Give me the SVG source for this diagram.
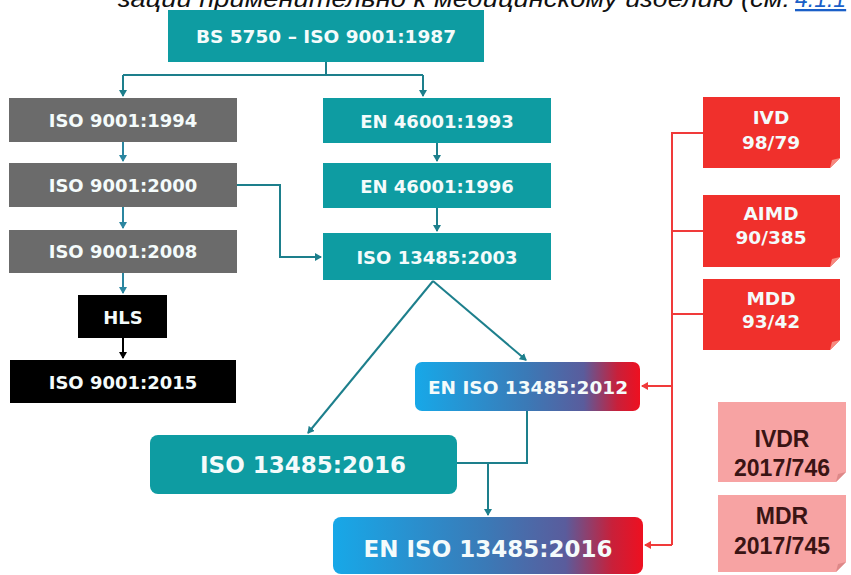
<svg xmlns="http://www.w3.org/2000/svg" width="851" height="575" viewBox="0 0 851 575">
<style>
.t{font-family:"DejaVu Sans",Verdana,sans-serif;font-weight:bold;fill:#f4fbfb;text-anchor:middle;dominant-baseline:central}
.p{font-family:"Liberation Sans",Arial,sans-serif;font-weight:bold;fill:#3a1414;text-anchor:middle;font-size:23px}
.teal{fill:#0e9ca2}
.gray{fill:#6b6b6b}
.blk{fill:#000}
.red{fill:#f0302c}
.pink{fill:#f7a3a3}
.ct{fill:none;stroke:#1d7f8c;stroke-width:2}
.cg{fill:none;stroke:#2b86a0;stroke-width:2}
.cb{fill:none;stroke:#000;stroke-width:2}
.cr{fill:none;stroke:#f03a3a;stroke-width:2}
</style>
<defs>
<linearGradient id="g" x1="0" y1="0" x2="1" y2="0">
<stop offset="0" stop-color="#17a8e8"/>
<stop offset="0.5" stop-color="#3b79b6"/>
<stop offset="0.75" stop-color="#5a5c9c"/>
<stop offset="0.9" stop-color="#c8203a"/>
<stop offset="1" stop-color="#ee1020"/>
</linearGradient>
<marker id="at" markerWidth="8" markerHeight="8" refX="6" refY="4" orient="auto" markerUnits="userSpaceOnUse"><path d="M0,0 L7,4 L0,8 z" fill="#1d7f8c"/></marker>
<marker id="ag" markerWidth="8" markerHeight="8" refX="6" refY="4" orient="auto" markerUnits="userSpaceOnUse"><path d="M0,0 L7,4 L0,8 z" fill="#2b86a0"/></marker>
<marker id="ab" markerWidth="8" markerHeight="8" refX="6" refY="4" orient="auto" markerUnits="userSpaceOnUse"><path d="M0,0 L7,4 L0,8 z" fill="#000"/></marker>
<marker id="ar" markerWidth="8" markerHeight="8" refX="6" refY="4" orient="auto" markerUnits="userSpaceOnUse"><path d="M0,0 L7,4 L0,8 z" fill="#f03a3a"/></marker>
</defs>
<rect width="851" height="575" fill="#fff"/>
<text x="118" y="7" font-family="'Liberation Sans',Arial,sans-serif" font-style="italic" font-size="23" fill="#111" textLength="672" lengthAdjust="spacingAndGlyphs">зации применительно к медицинскому изделию (см.</text>
<text x="795" y="7" font-family="'Liberation Sans',Arial,sans-serif" font-style="italic" font-size="23" fill="#1a5fc8" text-decoration="underline">4.1.1</text>

<g id="connectors">
<path class="ct" d="M326,62 V75 M123,75 H423"/>
<path class="ct" d="M123,75 V96" marker-end="url(#at)"/>
<path class="ct" d="M423,75 V96" marker-end="url(#at)"/>
<path class="cg" d="M123,142 V161" marker-end="url(#ag)"/>
<path class="cg" d="M123,207 V228" marker-end="url(#ag)"/>
<path class="cg" d="M123,273 V293" marker-end="url(#ag)"/>
<path class="cb" d="M123,338 V358" marker-end="url(#ab)"/>
<path class="ct" d="M437,143 V161" marker-end="url(#at)"/>
<path class="ct" d="M437,208 V231" marker-end="url(#at)"/>
<path class="ct" d="M237,185 H280 V257 H321" marker-end="url(#at)"/>
<path class="ct" d="M433,281 L526,360" marker-end="url(#at)"/>
<path class="ct" d="M433,281 L308,433" marker-end="url(#at)"/>
<path class="ct" d="M527,411 V463 H457"/>
<path class="ct" d="M488,463 V515" marker-end="url(#at)"/>
<path class="cr" d="M703,133 H672 V545 M672,231 H703 M672,314 H703"/>
<path class="cr" d="M672,386 H642" marker-end="url(#ar)"/>
<path class="cr" d="M672,545 H645" marker-end="url(#ar)"/>
</g>

<g id="bs5750"><rect class="teal" x="168" y="10" width="316" height="52"/><text class="t" x="326" y="36" font-size="18.5">BS 5750 – ISO 9001:1987</text></g>
<g id="iso9001-1994"><rect class="gray" x="9" y="98" width="228" height="44"/><text class="t" x="123" y="120" font-size="18">ISO 9001:1994</text></g>
<g id="iso9001-2000"><rect class="gray" x="9" y="163" width="228" height="44"/><text class="t" x="123" y="185" font-size="18">ISO 9001:2000</text></g>
<g id="iso9001-2008"><rect class="gray" x="9" y="230" width="228" height="43"/><text class="t" x="123" y="251" font-size="18">ISO 9001:2008</text></g>
<g id="hls"><rect class="blk" x="78" y="295" width="89" height="43"/><text class="t" x="123" y="317" font-size="18">HLS</text></g>
<g id="iso9001-2015"><rect class="blk" x="10" y="360" width="226" height="43"/><text class="t" x="123" y="382" font-size="18">ISO 9001:2015</text></g>
<g id="en46001-1993"><rect class="teal" x="323" y="98" width="228" height="45"/><text class="t" x="437" y="121" font-size="18">EN 46001:1993</text></g>
<g id="en46001-1996"><rect class="teal" x="323" y="163" width="228" height="45"/><text class="t" x="437" y="186" font-size="18">EN 46001:1996</text></g>
<g id="iso13485-2003"><rect class="teal" x="323" y="233" width="228" height="47"/><text class="t" x="437" y="257" font-size="18">ISO 13485:2003</text></g>
<g id="eniso13485-2012"><rect fill="url(#g)" x="415" y="362" width="225" height="49" rx="7"/><text class="t" x="528" y="387" font-size="18.5">EN ISO 13485:2012</text></g>
<g id="iso13485-2016"><rect class="teal" x="150" y="435" width="307" height="59" rx="8"/><text class="t" x="303" y="465" font-size="23">ISO 13485:2016</text></g>
<g id="eniso13485-2016"><rect fill="url(#g)" x="333" y="517" width="310" height="57" rx="8"/><text class="t" x="488" y="549" font-size="23">EN ISO 13485:2016</text></g>

<g id="ivd"><path class="red" d="M703,97 H840 V158 L830,168 H703 Z"/><path d="M840,158 L830,168 L832,160 Z" fill="#f58a80"/><text class="t" x="771" y="117" font-size="18.5">IVD</text><text class="t" x="771" y="142" font-size="18.5">98/79</text></g>
<g id="aimd"><path class="red" d="M703,195 H840 V257 L830,267 H703 Z"/><path d="M840,257 L830,267 L832,259 Z" fill="#f58a80"/><text class="t" x="771" y="213" font-size="18.5">AIMD</text><text class="t" x="771" y="237" font-size="18.5">90/385</text></g>
<g id="mdd"><path class="red" d="M703,279 H840 V340 L830,350 H703 Z"/><path d="M840,340 L830,350 L832,342 Z" fill="#f58a80"/><text class="t" x="771" y="298" font-size="18.5">MDD</text><text class="t" x="771" y="321" font-size="18.5">93/42</text></g>

<g id="ivdr"><path class="pink" d="M718,402 H846 V472 L836,482 H718 Z"/><path d="M846,472 L836,482 L838,474 Z" fill="#d88"/><text class="p" x="782" y="447">IVDR</text><text class="p" x="782" y="476">2017/746</text></g>
<g id="mdr"><path class="pink" d="M718,495 H846 V562 L836,572 H718 Z"/><path d="M846,562 L836,572 L838,564 Z" fill="#d88"/><text class="p" x="782" y="524">MDR</text><text class="p" x="782" y="554">2017/745</text></g>
</svg>
